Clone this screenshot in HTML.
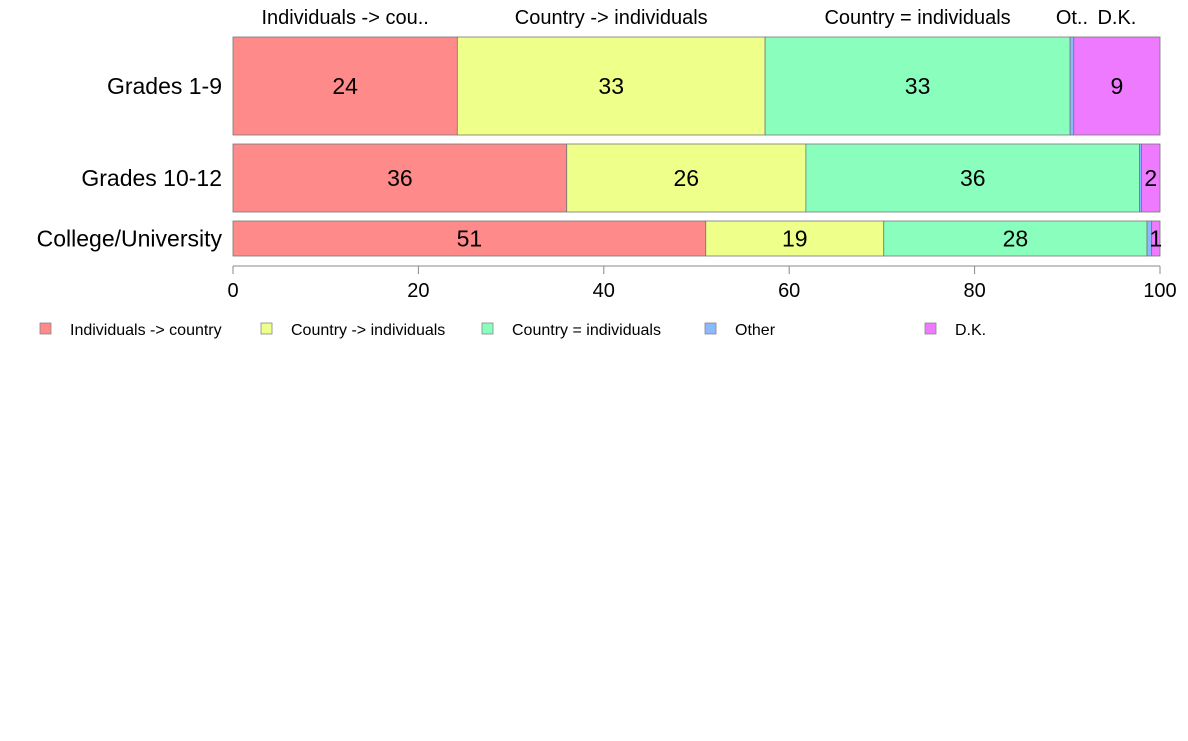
<!DOCTYPE html>
<html><head><meta charset="utf-8"><style>
body{margin:0;background:#fff;width:1188px;height:736px;overflow:hidden;font-family:"Liberation Sans",Arial,sans-serif}
</style></head><body>
<svg id="chart" width="1188" height="736" font-family="Liberation Sans, Arial, sans-serif"></svg>
<script>
const categories = ["Grades 1-9","Grades 10-12","College/University"];
const seriesNames = ["Individuals -> country","Country -> individuals","Country = individuals","Other","D.K."];
const topLabels = ["Individuals -> cou..","Country -> individuals","Country = individuals","Ot..","D.K."];
const s1 = [24.2,36.0,51.0];
const s2 = [33.2,25.8,19.2];
const s3 = [32.9,36.0,28.4];
const s4 = [0.4,0.2,0.5];
const s5 = [9.3,2.0,0.9];
const printed = [[24,33,33,"",9],[36,26,36,"",2],[51,19,28,"",1]];
const xTicks = [0,20,40,60,80,100];
const colors = ["#ff8a8a","#eeff8a","#8affbd","#8ab9ff","#ee7aff"];
const series=[s1,s2,s3,s4,s5];
const ns="http://www.w3.org/2000/svg";
const svg=document.getElementById('chart');
const x0=233,x1=1160;
const xs=v=>x0+(x1-x0)*v/100;
const rows=[[37,135],[144,212],[221,256]];
function mk(t,a,p){const e=document.createElementNS(ns,t);for(const k in a)e.setAttribute(k,a[k]);(p||svg).appendChild(e);return e;}
categories.forEach((c,i)=>{
  const [ya,yb]=rows[i];let acc=0;
  const g=mk('g',{});
  
  
  series.forEach((s,j)=>{
    const a=xs(acc),b=xs(acc+s[i]);
    const r=mk('rect',{x:a,y:ya,width:b-a,height:yb-ya,fill:colors[j],stroke:'#777','stroke-width':0.8},g);
    
    
    const lab=printed[i][j];
    if(lab!==""){const t=mk('text',{x:(a+b)/2,y:(ya+yb)/2+8,'text-anchor':'middle','font-size':23,fill:'#000'},g);t.textContent=lab;
      
      }
    acc+=s[i];
  });
  const t=mk('text',{x:222,y:(ya+yb)/2+8,'text-anchor':'end','font-size':23,fill:'#000'});
  t.textContent=c;
  
  
});
// top labels from first row
let acc=0;
series.forEach((s,j)=>{
  const a=xs(acc),b=xs(acc+s[0]);acc+=s[0];
  let cx=(a+b)/2;
  const t=mk('text',{x:cx,y:24,'text-anchor':'middle','font-size':20,fill:'#000'});
  t.textContent=topLabels[j];
  
  
});
// x-axis
const ax=mk('g',{});


mk('line',{x1:x0,x2:x1,y1:266,y2:266,stroke:'#888'},ax);
xTicks.forEach(v=>{
  mk('line',{x1:xs(v),x2:xs(v),y1:266,y2:274,stroke:'#888'},ax);
  const t=mk('text',{x:xs(v),y:297,'text-anchor':'middle','font-size':20,fill:'#000'},ax);
  t.textContent=v;
  
  
});
// legend
const lx=[40,261,482,705,925];
seriesNames.forEach((n,j)=>{
  const g=mk('g',{});
  
  
  mk('rect',{x:lx[j],y:323,width:11,height:11,fill:colors[j],stroke:'#888','stroke-width':0.8},g);
  const t=mk('text',{x:lx[j]+30,y:335,'font-size':16,fill:'#000'},g);
  t.textContent=n;
});
</script>
</body></html>
